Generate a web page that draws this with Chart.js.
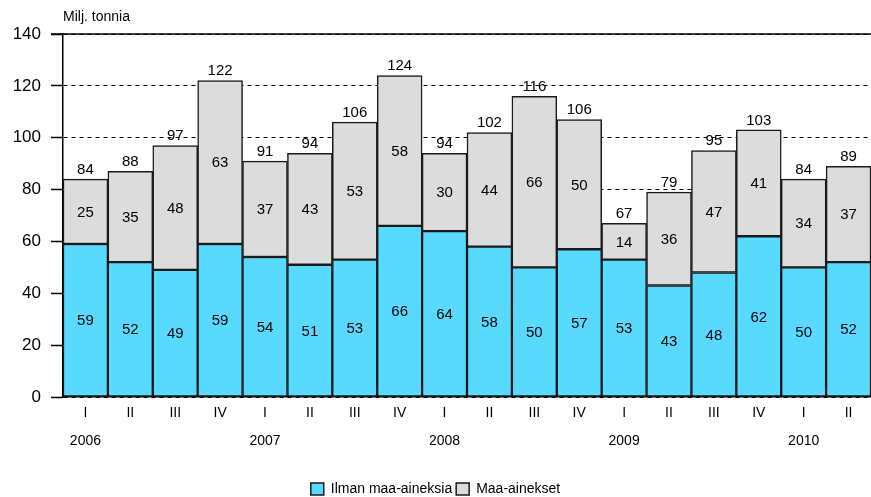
<!DOCTYPE html>
<html>
<head>
<meta charset="utf-8">
<script src="https://cdn.jsdelivr.net/npm/chart.js@4/dist/chart.umd.min.js"></script>
<style>
  html, body { margin: 0; padding: 0; background: #fff; }
  #wrap { width: 871px; height: 497px; position: relative; }
</style>
</head>
<body>
<div id="wrap"><canvas id="chart"></canvas></div>
<script>
// Data (million tonnes), quarters 2006 I - 2010 II
const quarters = ['I','II','III','IV','I','II','III','IV','I','II','III','IV','I','II','III','IV','I','II'];
const years = ['2006','','','','2007','','','','2008','','','','2009','','','','2010',''];
const withoutSoil = [59, 52, 49, 59, 54, 51, 53, 66, 64, 58, 50, 57, 53, 43, 48, 62, 50, 52];
const soil = [25, 35, 48, 63, 37, 43, 53, 58, 30, 44, 66, 50, 14, 36, 47, 41, 34, 37];
const totals = [84, 88, 97, 122, 91, 94, 106, 124, 94, 102, 116, 106, 67, 79, 95, 103, 84, 89];
const yTicks = [0, 20, 40, 60, 80, 100, 120, 140];

const FONT = '"Liberation Sans", Arial, sans-serif';
const labels = quarters.map((q, i) => [q, years[i]]);

// value labels inside segments + totals on top, plus unit title
const valueLabels = {
  id: 'valueLabels',
  beforeDatasetsDraw(chart) {
    const {ctx, chartArea} = chart;
    ctx.save();
    ctx.strokeStyle = '#000';
    ctx.lineWidth = 1.5;
    ctx.beginPath();
    ctx.moveTo(chartArea.left - 12, chartArea.top);
    ctx.lineTo(chartArea.right, chartArea.top);
    ctx.stroke();
    ctx.restore();
  },
  afterDatasetsDraw(chart) {
    const {ctx} = chart;
    ctx.save();
    ctx.fillStyle = '#000';
    ctx.font = '15px ' + FONT;
    ctx.textAlign = 'center';
    ctx.textBaseline = 'middle';
    chart.data.datasets.forEach((ds, di) => {
      chart.getDatasetMeta(di).data.forEach((bar, i) => {
        const mid = (bar.y + bar.base) / 2;
        ctx.fillText(String(ds.data[i]), bar.x, mid + 1);
      });
    });
    const top = chart.getDatasetMeta(1).data;
    ctx.textBaseline = 'bottom';
    top.forEach((bar, i) => {
      ctx.fillText(String(totals[i]), bar.x, bar.y - 2);
    });
    ctx.textAlign = 'left';
    ctx.textBaseline = 'middle';
    ctx.font = '14px ' + FONT;
    ctx.fillText('Milj. tonnia', 63, 17);
    ctx.restore();
  }
};

new Chart(document.getElementById('chart'), {
  type: 'bar',
  data: {
    labels: labels,
    datasets: [
      {
        label: 'Ilman maa-aineksia',
        data: withoutSoil,
        backgroundColor: '#58daff',
        borderColor: '#1a1a1a',
        borderWidth: 1.5,
        borderSkipped: false
      },
      {
        label: 'Maa-ainekset',
        data: soil,
        backgroundColor: '#dcdcdc',
        borderColor: '#1a1a1a',
        borderWidth: 1.5,
        borderSkipped: false
      }
    ]
  },
  options: {
    responsive: true,
    maintainAspectRatio: false,
    animation: false,
    layout: { padding: { top: 34, right: 0, left: 0, bottom: -9 } },
    datasets: { bar: { barPercentage: 1, categoryPercentage: 1 } },
    plugins: {
      legend: {
        position: 'bottom',
        labels: {
          font: { family: FONT, size: 14 },
          color: '#000',
          boxWidth: 13,
          boxHeight: 12,
          padding: 4
        }
      },
      tooltip: { enabled: false }
    },
    scales: {
      x: {
        stacked: true,
        grid: { display: false },
        border: { color: '#000', width: 1.5 },
        ticks: {
          color: '#000',
          font: { family: FONT, size: 14, lineHeight: 2 },
          maxRotation: 0,
          autoSkip: false,
          padding: -6
        },
        afterFit(scale) { scale.height = 81; }
      },
      y: {
        stacked: true,
        min: 0,
        max: 140,
        afterBuildTicks(scale) { scale.ticks = yTicks.map(v => ({ value: v })); },
        grid: {
          color: '#000',
          lineWidth: 1,
          tickLength: 12,
          tickColor: '#000',
          tickBorderDash: [],
          tickWidth: 1.5
        },
        border: { color: '#000', width: 1.5, dash: [4, 4] },
        ticks: {
          color: '#000',
          font: { family: FONT, size: 17 },
          padding: 10
        },
        afterFit(scale) { scale.width = 63; }
      }
    }
  },
  plugins: [valueLabels]
});
</script>
</body>
</html>
